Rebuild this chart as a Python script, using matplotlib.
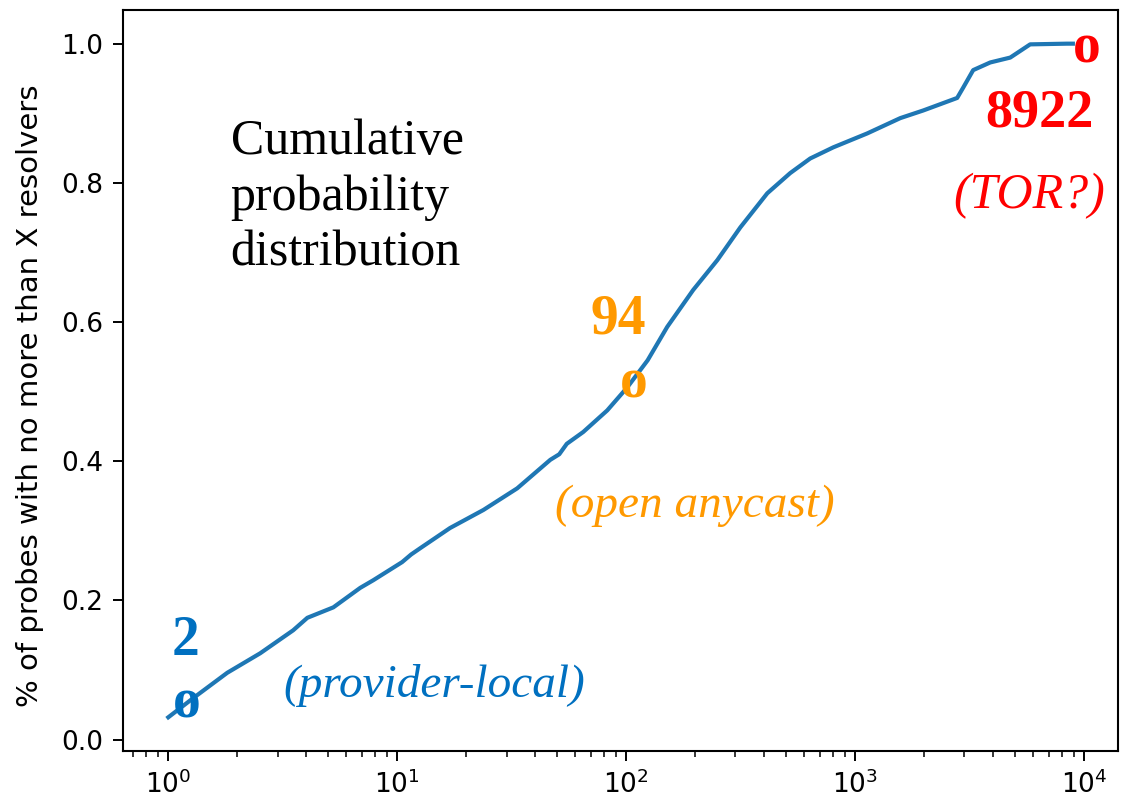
import matplotlib
matplotlib.use("Agg")
import matplotlib.pyplot as plt

# CDF of number of resolvers seen per probe
resolvers = [1.0, 1.29, 1.81, 2.52, 3.51, 4.05, 5.26, 6.89, 7.86, 10.5, 11.5, 12.6,
             17.0, 23.8, 33.4, 46.6, 51.0, 55.0, 64.9, 82.6, 101, 124, 151, 196,
             250, 315, 413, 520, 636, 802, 1128, 1573, 1982, 2788, 2964, 3275,
             3888, 4753, 5808, 8430, 8922]
cum_prob = [0.032, 0.060, 0.096, 0.124, 0.157, 0.175, 0.190, 0.218, 0.229, 0.255, 0.266, 0.275,
            0.304, 0.330, 0.361, 0.402, 0.410, 0.425, 0.442, 0.473, 0.506, 0.545, 0.593, 0.646,
            0.689, 0.736, 0.785, 0.814, 0.835, 0.851, 0.871, 0.893, 0.904, 0.922, 0.937, 0.962,
            0.973, 0.980, 0.999, 1.0, 1.0]

serif = "Liberation Serif"
blue = "#0070C0"
orange = "#FF9900"
red = "#FF0000"

fig = plt.figure(figsize=(11.32, 8.05), dpi=100)
ax = fig.add_axes([0.1087, 0.0671, 0.879, 0.9205])

ax.plot(resolvers, cum_prob, color="#1f77b4", linewidth=3.0)
ax.set_xscale("log")

ax.set_ylabel("% of probes with no more than X resolvers", fontsize=21)
ax.yaxis.set_label_coords(-0.079, 0.48)
ax.tick_params(axis="both", which="major", labelsize=19, length=7, width=1.4, pad=7)
ax.tick_params(axis="both", which="minor", length=4, width=1.1)
for s in ax.spines.values():
    s.set_linewidth(1.5)

ax.text(1.87, 0.893, "Cumulative\nprobability\ndistribution", family=serif,
        fontsize=36, ha="left", va="top", linespacing=1.27)

# provider-local resolvers
ax.text(1.186, 0.121, "2", family=serif, fontsize=40, fontweight="bold",
        color=blue, ha="center", va="baseline")
ax.text(1.05, 0.032, "o", family=serif, fontsize=40, fontweight="bold",
        color=blue, ha="left", va="baseline")
ax.text(3.18, 0.061, "(provider-local)", family=serif, fontsize=34,
        style="italic", color=blue, ha="left", va="baseline")

# open anycast resolvers
ax.text(92.3, 0.584, "94", family=serif, fontsize=40, fontweight="bold",
        color=orange, ha="center", va="baseline")
ax.text(94, 0.491, "o", family=serif, fontsize=40, fontweight="bold",
        color=orange, ha="left", va="baseline")
ax.text(49, 0.320, "(open anycast)", family=serif, fontsize=34,
        style="italic", color=orange, ha="left", va="baseline")

# TOR-like tail
ax.text(8922, 0.973, "o", family=serif, fontsize=40, fontweight="bold",
        color=red, ha="left", va="baseline")
ax.text(10950, 0.881, "8922", family=serif, fontsize=39, fontweight="bold",
        color=red, ha="right", va="baseline")
ax.text(12360, 0.764, "(TOR?)", family=serif, fontsize=36,
        style="italic", color=red, ha="right", va="baseline")

fig.savefig("out.png", dpi=100)
